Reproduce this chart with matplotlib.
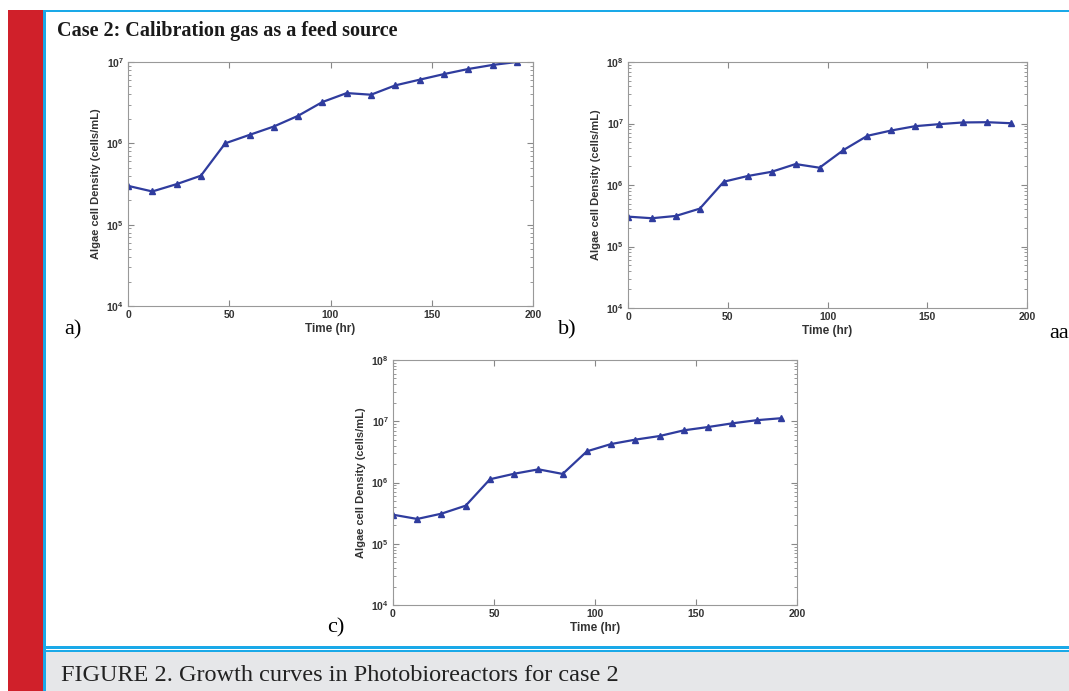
import matplotlib
matplotlib.use("Agg")
import matplotlib.pyplot as plt
from matplotlib.patches import Rectangle
from matplotlib.ticker import LogLocator, NullFormatter

# sampling times (hr)
time_hr = [0, 12, 24, 36, 48, 60, 72, 84, 96, 108, 120, 132, 144, 156, 168, 180, 192]

# algae cell density (cells/mL)
dens_a = [3.0e5, 2.56e5, 3.15e5, 4.0e5, 1.0e6, 1.27e6, 1.61e6, 2.18e6, 3.22e6,
          4.15e6, 3.96e6, 5.16e6, 6.06e6, 7.1e6, 8.2e6, 9.2e6, 1.0e7]
dens_b = [3.06e5, 2.88e5, 3.14e5, 4.13e5, 1.13e6, 1.40e6, 1.64e6, 2.19e6, 1.91e6,
          3.70e6, 6.31e6, 7.7e6, 9.05e6, 9.76e6, 1.04e7, 1.05e7, 1.01e7]
dens_c = [2.98e5, 2.54e5, 3.10e5, 4.19e5, 1.13e6, 1.39e6, 1.64e6, 1.38e6, 3.23e6,
          4.25e6, 5.01e6, 5.74e6, 7.11e6, 8.05e6, 9.25e6, 1.04e7, 1.12e7]

W, H = 1069, 691
plt.rcParams["font.family"] = ["Liberation Sans", "DejaVu Sans"]
plt.rcParams["mathtext.fontset"] = "custom"
plt.rcParams["mathtext.rm"] = "Liberation Sans:bold"
plt.rcParams["mathtext.it"] = "Liberation Sans:bold"
plt.rcParams["mathtext.bf"] = "Liberation Sans:bold"

fig = plt.figure(figsize=(W / 100, H / 100), dpi=100)
fig.patch.set_facecolor("white")

def px(x0, y0, x1, y1):
    # pixel box (top-left origin) -> figure fraction rect
    return [x0 / W, 1 - y1 / H, (x1 - x0) / W, (y1 - y0) / H]

def rect(x0, y0, x1, y1, color):
    r = px(x0, y0, x1, y1)
    fig.add_artist(Rectangle((r[0], r[1]), r[2], r[3], transform=fig.transFigure,
                             facecolor=color, edgecolor="none", zorder=0))

# page decorations
rect(8, 10, 43, 691, "#d0202a")
rect(43, 10, 1069, 12, "#1aa9e8")
rect(43, 10, 46, 691, "#1aa9e8")
rect(46, 646, 1069, 649, "#1aa9e8")
rect(46, 650, 1069, 652, "#1aa9e8")
rect(46, 652, 1069, 691, "#e6e7e9")

fig.text(57 / W, 1 - 36 / H, "Case 2: Calibration gas as a feed source",
         family="Liberation Serif", weight="bold", fontsize=14.5, va="baseline",
         color="#1a1a1a")
fig.text(61 / W, 1 - 681 / H, "FIGURE 2. Growth curves in Photobioreactors for case 2",
         family="Liberation Serif", fontsize=17.5, va="baseline", color="#222222")

line_col = "#2f3c9e"

def panel(box, y, ymax, letter, lpos):
    ax = fig.add_axes(px(*box))
    ax.plot(time_hr, y, color=line_col, lw=1.6, marker="^", ms=4.5,
            markerfacecolor=line_col, markeredgecolor=line_col)
    ax.set_yscale("log")
    ax.set_xlim(0, 200)
    ax.set_ylim(1e4, ymax)
    ax.set_xticks([0, 50, 100, 150, 200])
    ax.yaxis.set_major_locator(LogLocator(base=10, numticks=10))
    ax.yaxis.set_minor_locator(LogLocator(base=10, subs=range(2, 10), numticks=20))
    ax.yaxis.set_minor_formatter(NullFormatter())
    ax.tick_params(which="both", direction="in", top=True, right=True,
                   color="#888888", labelsize=7.5, pad=3)
    ax.tick_params(which="major", length=4)
    ax.tick_params(which="minor", length=2)
    for lab in ax.get_xticklabels() + ax.get_yticklabels():
        lab.set_fontweight("bold")
        lab.set_color("#333333")
    for s in ax.spines.values():
        s.set_color("#999999")
        s.set_linewidth(0.8)
    ax.set_xlabel("Time (hr)", fontsize=8.5, fontweight="bold", color="#333333", labelpad=2)
    ax.set_ylabel("Algae cell Density (cells/mL)", fontsize=8, fontweight="bold",
                  color="#333333", labelpad=4)
    fig.text(lpos[0] / W, 1 - lpos[1] / H, letter, family="Liberation Serif",
             fontsize=16, va="center")
    return ax

panel((128, 62, 533, 306), dens_a, 1e7, "a)", (64, 330))
panel((628, 62, 1027, 308), dens_b, 1e8, "b)", (558, 330))
panel((393, 360, 797, 605), dens_c, 1e8, "c)", (327, 628))
fig.text(1049 / W, 1 - 333 / H, "aa", family="Liberation Serif", fontsize=16, va="center")

fig.savefig("out.png", dpi=100)
